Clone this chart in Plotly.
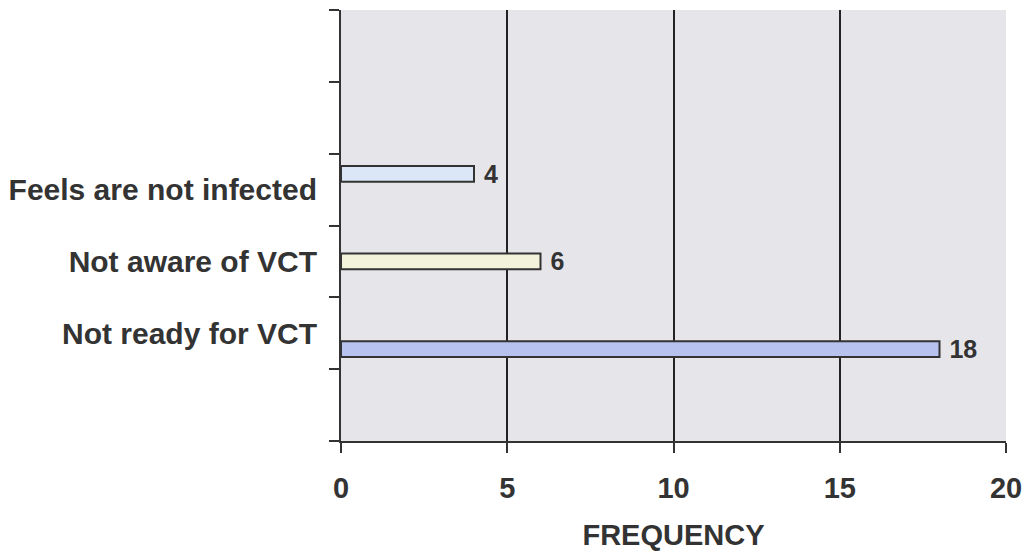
import plotly.graph_objects as go

# Data
categories = ["Not ready for VCT", "Not aware of VCT", "Feels are not infected"]
cat_pos = [1.5, 2.5, 3.5]
values = [18, 6, 4]
bar_colors = ["#b7c2ee", "#f3f3dc", "#dbe6f6"]
x_ticks = [0, 5, 10, 15, 20]

TXT = "#333333"
fig = go.Figure()
for i, (cat, val, col) in enumerate(zip(categories, values, bar_colors)):
    xs = [val if j == i else None for j in range(len(categories))]
    fig.add_trace(go.Bar(
        y=cat_pos, x=xs, orientation="h", name=cat,
        marker=dict(color=col, line=dict(color="#333333", width=2)),
        text=[f"\u00a0{v}" if v is not None else "" for v in xs],
        textposition="outside", cliponaxis=False, constraintext="none",
        textfont=dict(family="Liberation Sans", size=25, color=TXT, weight="bold"),
        showlegend=False,
    ))

# page body has an 8px margin; compensate
OFF = 8
fig.update_layout(
    width=1034 - OFF, height=551 - OFF,
    margin=dict(l=341 - OFF, r=28, t=10 - OFF, b=110, autoexpand=False),
    paper_bgcolor="white", plot_bgcolor="#e6e6ea",
    barmode="group", bargap=0.34, bargroupgap=0,
    font=dict(family="Liberation Sans", size=22, color=TXT),
)
fig.update_xaxes(
    range=[0, 20], tickvals=x_ticks,
    ticks="outside", ticklen=10, tickwidth=2, tickcolor="#333333",
    showline=True, linecolor="#333333", linewidth=2,
    showgrid=False, zeroline=False, automargin=False,
    minor=dict(tickvals=[5, 10, 15], showgrid=True, gridcolor="#222222", gridwidth=2, ticks=""),
    tickfont=dict(family="Liberation Sans", size=29, color=TXT, weight="bold"),
    ticklabelstandoff=10,
    title=dict(text="FREQUENCY", font=dict(family="Liberation Sans", size=29, color=TXT, weight="bold"), standoff=28),
)
fig.update_yaxes(
    range=[0, 6], tickvals=cat_pos, ticktext=categories,
    ticks="", showgrid=False, zeroline=False, automargin=False,
    showline=True, linecolor="#333333", linewidth=2,
    minor=dict(tickvals=[0, 1, 2, 3, 4, 5, 6], ticks="outside", ticklen=10, tickwidth=2, tickcolor="#333333", showgrid=False),
    tickfont=dict(family="Liberation Sans", size=30, color=TXT, weight="bold"),
    ticklabelstandoff=16,
)

fig.write_html("out.html")
